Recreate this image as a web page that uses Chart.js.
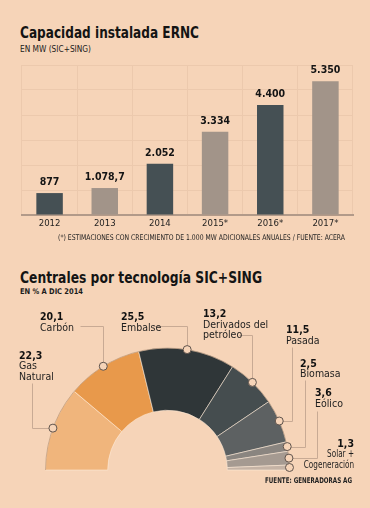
<!DOCTYPE html>
<html lang="es">
<head>
<meta charset="utf-8">
<title>Capacidad instalada ERNC</title>
<script src="https://cdn.jsdelivr.net/npm/chart.js@4.4.1/dist/chart.umd.min.js"></script>
<style>
  html, body { margin: 0; padding: 0; }
  body {
    width: 370px; height: 508px; position: relative; overflow: hidden;
    background: #f6d4b8; color: #1b1b1b;
    font-family: 'DejaVu Sans Condensed', 'DejaVu Sans', sans-serif;
  }
  .t { position: absolute; white-space: nowrap; line-height: 1; transform-origin: 0 0; }
  .title { font-family: 'DejaVu Sans', sans-serif; font-weight: bold; font-size: 16.5px; color: #141414; }
  .sub { font-size: 8.5px; }
  .note { font-size: 7.8px; color: #222; }
  #barBox { position: absolute; left: 0; top: 50px; width: 370px; height: 185px; }
  #pieBox { position: absolute; left: 0; top: 300px; width: 370px; height: 208px; }
</style>
</head>
<body>

<div class="t title" style="left:20px; top:25px" data-w="179">Capacidad instalada ERNC</div>
<div class="t sub" style="left:20px; top:45px" data-w="71">EN MW (SIC+SING)</div>

<div id="barBox"><canvas id="bars" width="370" height="185"></canvas></div>

<div class="t note" style="left:58px; top:234px" data-w="287">(*) ESTIMACIONES CON CRECIMIENTO DE 1.000 MW ADICIONALES ANUALES / FUENTE: ACERA</div>

<div class="t title" style="left:20px; top:269.5px" data-w="242">Centrales por tecnología SIC+SING</div>
<div class="t sub" style="left:20px; top:288px; font-weight:bold; font-size:7.8px" data-w="63">EN % A DIC 2014</div>

<div id="pieBox"><canvas id="pie" width="370" height="208"></canvas></div>

<div class="t note" style="left:265px; top:476.5px; font-weight:bold" data-w="87">FUENTE: GENERADORAS AG</div>

<script>
// --- data ---
const years = ['2012', '2013', '2014', '2015*', '2016*', '2017*'];
const capacityMW = [877, 1078.7, 2052, 3334, 4400, 5350];
const yMax = 6000;
const yStep = 1000;

const techNames = [
  ['Gas', 'Natural'],
  ['Carbón'],
  ['Embalse'],
  ['Derivados del', 'petróleo'],
  ['Pasada'],
  ['Biomasa'],
  ['Eólico'],
  ['Solar +', 'Cogeneración']
];
const techShare = [22.3, 20.1, 25.5, 13.2, 11.5, 2.5, 3.6, 1.3];

// --- styles ---
const BG = '#f6d4b8';
const DARK = '#455054';
const GREY = '#a29489';
const GRID = '#ecc9ad';
const BASE = '#b29a89';
const FONT = "'DejaVu Sans Condensed', 'DejaVu Sans', sans-serif";
const PIE_COLORS = ['#f0b57c', '#e8994b', '#2f3638', '#454d4f', '#5d6162', '#8a8580', '#a59a91', '#c5b3a5'];
const LEADER = '#c8aa94';

const num = new Intl.NumberFormat('de-DE', { maximumFractionDigits: 1 });
const pct = new Intl.NumberFormat('de-DE', { minimumFractionDigits: 1, maximumFractionDigits: 1 });

// squeeze the header texts to the widths of the original
document.querySelectorAll('[data-w]').forEach(el => {
  const w = el.getBoundingClientRect().width;
  el.style.transform = 'scaleX(' + (el.dataset.w / w) + ')';
});

// value labels over the bars
const barValues = {
  id: 'barValues',
  afterDatasetsDraw(chart) {
    const ctx = chart.ctx;
    ctx.save();
    ctx.font = 'bold 10.5px ' + FONT;
    ctx.fillStyle = '#141414';
    ctx.textAlign = 'center';
    chart.getDatasetMeta(0).data.forEach((bar, i) => {
      ctx.fillText(num.format(capacityMW[i]), bar.x, bar.y - 8);
    });
    ctx.restore();
  }
};

new Chart(document.getElementById('bars'), {
  type: 'bar',
  data: {
    labels: years,
    datasets: [{
      data: capacityMW,
      backgroundColor: c => (c.dataIndex % 2 ? GREY : DARK),
      barPercentage: 0.48,
      categoryPercentage: 1
    }]
  },
  options: {
    responsive: false,
    animation: false,
    layout: { padding: { left: 22, right: 17, top: 15, bottom: 0 } },
    plugins: { legend: { display: false }, tooltip: { enabled: false } },
    scales: {
      x: {
        grid: { color: GRID, drawTicks: false, offset: true },
        border: { color: BASE, width: 2 },
        ticks: { color: '#1e1e1e', padding: 3, font: { family: FONT, size: 9.5 } },
        afterFit: s => { s.height = 20; }
      },
      y: {
        min: 0,
        max: yMax,
        ticks: { display: false, stepSize: yStep },
        grid: { color: c => (c.tick.value === 0 ? 'rgba(0,0,0,0)' : GRID), drawTicks: false },
        border: { display: false },
        afterFit: s => { s.width = 0; }
      }
    }
  },
  plugins: [barValues]
});

// label places for the half doughnut, in page pixels
// lead: start of the leader line and how it bends to the dot
const PIE_TOP = 300;
const pieLabelPos = [
  { x: 19, y: 358.5, lead: [32, 383, 'vh'] },
  { x: 40, y: 320, lead: [80, 326, 'hv'] },
  { x: 121, y: 320, lead: [153, 326, 'hv'] },
  { x: 203, y: 317, lead: [239, 335, 'hv'] },
  { x: 286, y: 333, lead: [292, 347, 'vh'] },
  { x: 300, y: 366.5, lead: [305, 380, 'vh'] },
  { x: 315, y: 396, lead: [317, 411, 'vh'] },
  { x: 354, y: 446.5, align: 'right', squeeze: 0.77 }
];

const pieLabels = {
  id: 'pieLabels',
  afterDatasetsDraw(chart) {
    const ctx = chart.ctx;
    const arcs = chart.getDatasetMeta(0).data;
    ctx.save();

    const dots = arcs.map(a => {
      const p = a.getProps(['x', 'y', 'startAngle', 'endAngle', 'outerRadius'], true);
      const mid = (p.startAngle + p.endAngle) / 2;
      return [p.x + Math.cos(mid) * p.outerRadius, p.y + Math.sin(mid) * p.outerRadius];
    });

    // thin rim round the outside
    const a0 = arcs[0].getProps(['x', 'y', 'outerRadius'], true);
    ctx.strokeStyle = 'rgba(150,110,80,0.45)';
    ctx.lineWidth = 1;
    ctx.beginPath();
    ctx.arc(a0.x, a0.y, a0.outerRadius, Math.PI, 0);
    ctx.stroke();

    // leader lines
    ctx.strokeStyle = LEADER;
    pieLabelPos.forEach((l, i) => {
      if (!l.lead) return;
      const [sx, sy, how] = l.lead;
      const y0 = sy - PIE_TOP;
      const [dx, dy] = dots[i];
      ctx.beginPath();
      ctx.moveTo(sx + 0.5, y0 + 0.5);
      if (how === 'vh') {
        ctx.lineTo(sx + 0.5, Math.round(dy) + 0.5);
        ctx.lineTo(dx, Math.round(dy) + 0.5);
      } else {
        ctx.lineTo(Math.round(dx) + 0.5, y0 + 0.5);
        ctx.lineTo(Math.round(dx) + 0.5, dy);
      }
      ctx.stroke();
    });

    // dots on the rim
    ctx.fillStyle = BG;
    ctx.strokeStyle = '#5f534c';
    dots.forEach(([x, y]) => {
      ctx.beginPath();
      ctx.arc(x, y, 4, 0, Math.PI * 2);
      ctx.fill();
      ctx.stroke();
    });

    // texts
    pieLabelPos.forEach((l, i) => {
      const lines = [pct.format(techShare[i])].concat(techNames[i]);
      ctx.textAlign = l.align || 'left';
      lines.forEach((txt, k) => {
        ctx.font = (k === 0 ? 'bold ' : '') + '10.5px ' + FONT;
        ctx.fillStyle = k === 0 ? '#111' : '#1e1e1e';
        const y = l.y - PIE_TOP + k * 10.5;
        if (l.squeeze && k > 0) {
          ctx.fillText(txt, l.x, y, ctx.measureText(txt).width * l.squeeze);
        } else {
          ctx.fillText(txt, l.x, y);
        }
      });
    });
    ctx.restore();
  }
};

new Chart(document.getElementById('pie'), {
  type: 'doughnut',
  data: {
    labels: techNames.map(n => n.join(' ')),
    datasets: [{
      data: techShare,
      backgroundColor: PIE_COLORS,
      borderColor: 'rgba(255,236,218,0.55)',
      borderWidth: 1
    }]
  },
  options: {
    responsive: false,
    animation: false,
    rotation: -90,
    circumference: 180,
    cutout: '49%',
    radius: 122,
    layout: { padding: { left: 0, right: 35, top: 48, bottom: 38 } },
    plugins: { legend: { display: false }, tooltip: { enabled: false } }
  },
  plugins: [pieLabels]
});
</script>
</body>
</html>
